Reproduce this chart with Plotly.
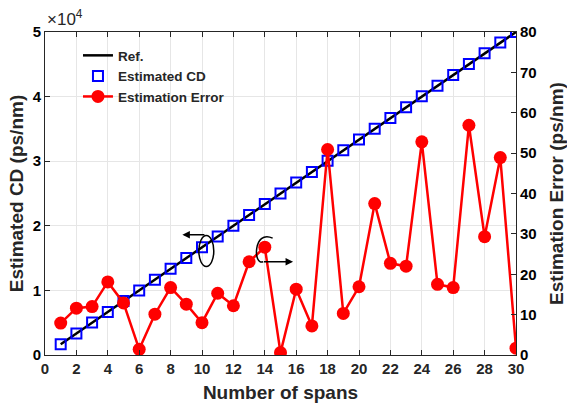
import plotly.graph_objects as go

# Span index
spans = list(range(1, 31))

# Reference accumulated CD (ps/nm)
ref_cd = [1667, 3333, 5000, 6667, 8333, 10000, 11667, 13333, 15000, 16667,
          18333, 20000, 21667, 23333, 25000, 26667, 28333, 30000, 31667, 33333,
          35000, 36667, 38333, 40000, 41667, 43333, 45000, 46667, 48333, 50000]

# Estimated CD (ps/nm)
est_cd = [1659, 3345, 5012, 6649, 8346, 10001, 11660, 13350, 15013, 16662,
          18348, 20012, 21690, 23360, 24999, 26684, 28326, 30051, 31678, 33350,
          35037, 36690, 38355, 40053, 41684, 43350, 45057, 46696, 48382, 50002]

# Absolute estimation error (ps/nm)
est_err = [7.9, 11.6, 12.0, 18.1, 12.9, 1.4, 10.1, 16.7, 12.6, 8.0,
           15.3, 12.2, 23.1, 26.7, 0.6, 16.3, 7.2, 50.9, 10.3, 16.9,
           37.5, 22.7, 22.0, 52.8, 17.5, 16.7, 56.9, 29.3, 48.9, 1.7]

x_ticks = list(range(0, 31, 2))
left_ticks = [0, 10000, 20000, 30000, 40000, 50000]
left_labels = ["0", "1", "2", "3", "4", "5"]
right_ticks = list(range(0, 81, 10))

FONT = "Liberation Sans, Arial, sans-serif"
TXT = "#262626"

fig = go.Figure()

fig.add_trace(go.Scatter(
    x=spans, y=ref_cd, mode="lines", name="Ref.",
    line=dict(color="black", width=2.5), yaxis="y"))
fig.add_trace(go.Scatter(
    x=spans, y=est_cd, mode="markers", name="Estimated CD",
    marker=dict(symbol="square-open", color="#0000ff", size=10,
                line=dict(width=2, color="#0000ff")), yaxis="y"))
fig.add_trace(go.Scatter(
    x=spans, y=est_err, mode="lines+markers", name="Estimation Error",
    line=dict(color="#ff0000", width=2.5),
    marker=dict(symbol="circle", color="#ff0000", size=13), yaxis="y2"))

# Axis indicator: ellipse around the CD curve with an arrow to the left axis
fig.add_shape(type="circle", xref="x", yref="y",
              x0=9.8, x1=10.75, y0=13700, y1=18500,
              line=dict(color="black", width=1.5))
fig.add_annotation(x=8.75, y=18600, ax=10.25, ay=18600, xref="x", yref="y",
                   axref="x", ayref="y", showarrow=True, arrowhead=2,
                   arrowsize=1, arrowwidth=1.5, arrowcolor="black", text="")

# Axis indicator: open loop near the error curve with an arrow to the right axis
fig.add_shape(type="path", xref="x", yref="y",
              path="M 14.5,18100 C 13.25,19500 13.25,13700 13.9,14450",
              line=dict(color="black", width=1.5))
fig.add_annotation(x=15.8, y=14450, ax=13.85, ay=14450, xref="x", yref="y",
                   axref="x", ayref="y", showarrow=True, arrowhead=2,
                   arrowsize=1, arrowwidth=1.5, arrowcolor="black", text="")

# Exponent label for the left axis
fig.add_annotation(x=0, y=1.0, xref="paper", yref="paper",
                   xanchor="left", yanchor="bottom", yshift=1, showarrow=False,
                   text="×10<sup>4</sup>",
                   font=dict(family=FONT, size=17, color=TXT))

fig.update_layout(
    width=567, height=403,
    margin=dict(l=45, r=51, t=32, b=48),
    paper_bgcolor="white", plot_bgcolor="white",
    font=dict(family=FONT, color=TXT),
    showlegend=True,
    legend=dict(x=0.07, y=0.975, xanchor="left", yanchor="top",
                bgcolor="rgba(0,0,0,0)",
                font=dict(family=FONT, size=13.5, color=TXT, weight="bold"),
                tracegroupgap=0, itemwidth=30),
    xaxis=dict(
        range=[0, 30], tickvals=x_ticks, ticks="inside", ticklen=5,
        tickcolor="#262626", showline=True, linecolor="#262626", linewidth=1,
        mirror="ticks", showgrid=True, gridcolor="#e6e6e6", zeroline=False,
        automargin=False,
        tickfont=dict(family=FONT, size=15, color=TXT, weight="bold"),
        title=dict(text="Number of spans",
                   font=dict(family=FONT, size=19, color=TXT, weight="bold"))),
    yaxis=dict(
        range=[0, 50000], tickvals=left_ticks, ticktext=left_labels,
        ticks="inside", ticklen=5, tickcolor="#262626", showline=True,
        linecolor="#262626", linewidth=1, showgrid=True, gridcolor="#e6e6e6",
        zeroline=False, automargin=False,
        tickfont=dict(family=FONT, size=15, color="black", weight="bold"),
        title=dict(text="Estimated CD (ps/nm)", standoff=4,
                   font=dict(family=FONT, size=19, color=TXT, weight="bold"))),
    yaxis2=dict(
        range=[0, 80], tickvals=right_ticks, overlaying="y", side="right",
        ticks="inside", ticklen=5, tickcolor="#262626", showline=True,
        linecolor="#262626", linewidth=1, showgrid=False, zeroline=False,
        automargin=False,
        tickfont=dict(family=FONT, size=15, color="black", weight="bold"),
        title=dict(text="Estimation Error (ps/nm)",
                   font=dict(family=FONT, size=19, color=TXT, weight="bold"))),
)

fig.write_html("out.html")
